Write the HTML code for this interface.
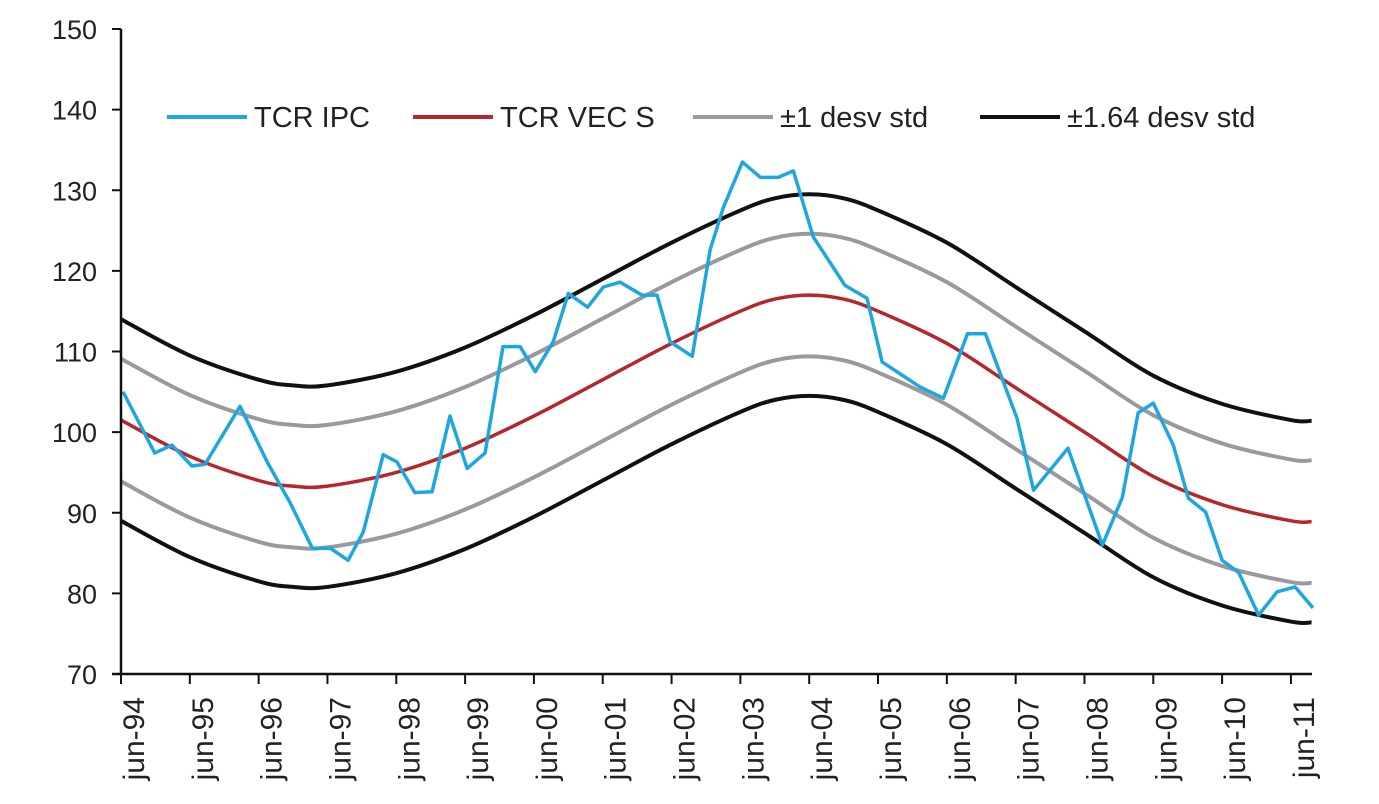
<!DOCTYPE html>
<html><head><meta charset="utf-8"><style>
body{margin:0;background:#fff;}
svg{display:block;font-family:"Liberation Sans",Arial,sans-serif;}
</style></head><body>
<svg id="chart" width="1379" height="804" viewBox="0 0 1379 804" xmlns="http://www.w3.org/2000/svg">
<g id="series"></g>
<g id="axes"></g>
<g id="legend"></g>
</svg>
<script>
// years since jun-94 and TCR IPC values
const ipcT = [0.03,0.49,0.74,1.03,1.22,1.73,2.13,2.46,2.78,3.04,3.30,3.52,3.81,4.01,4.27,4.52,4.78,5.03,5.29,5.55,5.80,6.02,6.28,6.50,6.78,7.01,7.25,7.57,7.79,7.98,8.30,8.56,8.75,9.03,9.29,9.55,9.77,10.06,10.52,10.84,11.06,11.61,11.95,12.30,12.56,13.02,13.26,13.76,14.26,14.55,14.78,15.00,15.29,15.51,15.76,16.00,16.24,16.53,16.80,17.06,17.32];
const ipcV = [105.0,97.4,98.4,95.8,96.0,103.2,96.2,91.2,85.6,85.6,84.1,87.6,97.2,96.3,92.5,92.6,102.0,95.5,97.4,110.6,110.6,107.5,111.2,117.2,115.5,118.0,118.6,117.0,117.0,111.2,109.4,122.6,127.8,133.5,131.6,131.6,132.4,124.2,118.2,116.6,108.7,105.6,104.2,112.2,112.2,101.7,92.8,98.0,86.0,91.9,102.4,103.6,98.4,91.8,90.1,84.1,82.6,77.3,80.2,80.8,78.2];
// TCR VEC S (equilibrium) values
const vecT = [0,1,2,2.5,3,4,5,6,7,8,9,9.5,10,10.5,11,12,13,14,15,16,17,17.3];
const vecV = [101.5,97,94,93.3,93.3,95,98,102,106.5,111,115,116.5,117,116.5,115,111,105.5,100,94.5,91,89,88.9];
const sd1 = 7.6, sd164 = 12.5;
const yTicks = [70,80,90,100,110,120,130,140,150];
const xLabels = ["jun-94","jun-95","jun-96","jun-97","jun-98","jun-99","jun-00","jun-01","jun-02","jun-03","jun-04","jun-05","jun-06","jun-07","jun-08","jun-09","jun-10","jun-11"];

const NS="http://www.w3.org/2000/svg";
const X0=121, PX=68.82, Y0=674, PY=8.0625;
const xs=t=>X0+t*PX, ys=v=>Y0-(v-70)*PY;
function mk(tag,attrs,parent){const e=document.createElementNS(NS,tag);for(const k in attrs)e.setAttribute(k,attrs[k]);parent.appendChild(e);return e;}
function smooth(pts){let d=`M${pts[0][0]},${pts[0][1]}`;for(let i=0;i<pts.length-1;i++){const p0=pts[i-1]||pts[i],p1=pts[i],p2=pts[i+1],p3=pts[i+2]||p2;d+=` C${p1[0]+(p2[0]-p0[0])/6},${p1[1]+(p2[1]-p0[1])/6} ${p2[0]-(p3[0]-p1[0])/6},${p2[1]-(p3[1]-p1[1])/6} ${p2[0]},${p2[1]}`;}return d;}
const S=document.getElementById('series'), A=document.getElementById('axes'), L=document.getElementById('legend');
const bands=[[sd164,'#111','upper-1.64-band'],[-sd164,'#111','lower-1.64-band'],[sd1,'#9a9a9e','upper-1-band'],[-sd1,'#9a9a9e','lower-1-band']];
bands.forEach(b=>{
  const p=mk('path',{d:smooth(vecT.map((t,i)=>[xs(t),ys(vecV[i]+b[0])])),fill:'none',stroke:b[1],'stroke-width':4},S);
  
  
});
const red=mk('path',{d:smooth(vecT.map((t,i)=>[xs(t),ys(vecV[i])])),fill:'none',stroke:'#b5272d','stroke-width':3.5},S);


const blue=mk('polyline',{points:ipcT.map((t,i)=>xs(t)+','+ys(ipcV[i])).join(' '),fill:'none',stroke:'#1ea7de','stroke-width':3.5,'stroke-linejoin':'round'},S);


// axes
const ya=mk('line',{x1:X0,y1:29,x2:X0,y2:Y0+1,stroke:'#111','stroke-width':2.5},A);


const xa=mk('line',{x1:112,y1:Y0,x2:1312,y2:Y0,stroke:'#111','stroke-width':2.5},A);


yTicks.forEach(v=>{
  mk('line',{x1:112,y1:ys(v),x2:X0,y2:ys(v),stroke:'#111','stroke-width':2},A);
  const t=mk('text',{x:97,y:ys(v)+10,'text-anchor':'end','font-size':27,fill:'#222'},A);
  t.textContent=v;
  
  
});
xLabels.forEach((s,i)=>{
  const x=xs(i);
  mk('line',{x1:x,y1:Y0,x2:x,y2:684,stroke:'#111','stroke-width':2},A);
  const t=mk('text',{x:0,y:0,'text-anchor':'end','font-size':30,fill:'#222',transform:`translate(${x+23},697) rotate(-90)`},A);
  t.textContent=s;
  
  
});
// legend
const leg=[[167,'#1ea7de','TCR IPC'],[413,'#b5272d','TCR VEC S'],[693,'#9a9a9e','±1 desv std'],[980,'#111','±1.64 desv std']];
leg.forEach(l=>{
  const g=mk('g',{},L);
  
  
  mk('line',{x1:l[0],y1:117,x2:l[0]+80,y2:117,stroke:l[1],'stroke-width':4},g);
  const t=mk('text',{x:l[0]+87,y:127,'font-size':29,fill:'#222'},g);
  t.textContent=l[2];
});
</script>
</body></html>
